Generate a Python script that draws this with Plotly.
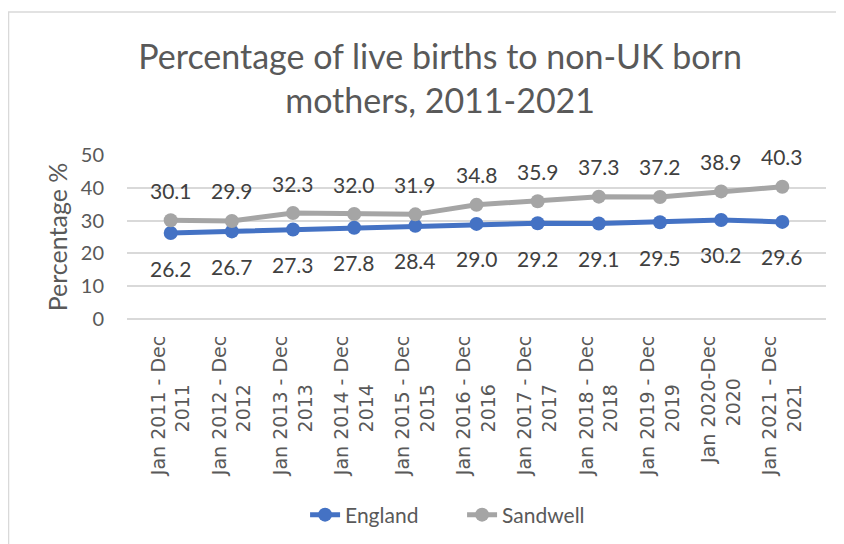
import plotly.graph_objects as go

NB = "\u00a0"
categories = [
    "Jan 2011 - Dec<br>2011" + NB * 8, "Jan 2012 - Dec<br>2012" + NB * 8,
    "Jan 2013 - Dec<br>2013" + NB * 8, "Jan 2014 - Dec<br>2014" + NB * 8,
    "Jan 2015 - Dec<br>2015" + NB * 8, "Jan 2016 - Dec<br>2016" + NB * 8,
    "Jan 2017 - Dec<br>2017" + NB * 8, "Jan 2018 - Dec<br>2018" + NB * 8,
    "Jan 2019 - Dec<br>2019" + NB * 8, "Jan 2020-Dec<br>2020" + NB * 7,
    "Jan 2021 - Dec<br>2021" + NB * 8,
]
england = [26.2, 26.7, 27.3, 27.8, 28.4, 29.0, 29.2, 29.1, 29.5, 30.2, 29.6]
sandwell = [30.1, 29.9, 32.3, 32.0, 31.9, 34.8, 35.9, 37.3, 37.2, 38.9, 40.3]
y_ticks = [0, 10, 20, 30, 40, 50]

BLUE = "#4472C4"
GREY = "#A5A5A5"
TEXT = "#595959"
FONT = "Lato"

fig = go.Figure()
fig.add_trace(go.Scatter(x=categories, y=england, name="England", mode="lines+markers",
                         line=dict(color=BLUE, width=5), marker=dict(size=14, color=BLUE)))
fig.add_trace(go.Scatter(x=categories, y=sandwell, name="Sandwell", mode="lines+markers",
                         line=dict(color=GREY, width=5), marker=dict(size=14, color=GREY)))

annotations = []
for c, v in zip(categories, england):
    annotations.append(dict(x=c, y=v, text=f"{v:.1f}", showarrow=False, yshift=-35,
                            font=dict(family=FONT, size=21, color="#404040")))
for c, v in zip(categories, sandwell):
    annotations.append(dict(x=c, y=v, text=f"{v:.1f}", showarrow=False, yshift=30,
                            font=dict(family=FONT, size=21, color="#404040")))

fig.update_layout(
    width=844, height=544,
    margin=dict(l=119, r=26, t=147, b=233),
    paper_bgcolor="white", plot_bgcolor="white",
    title=dict(text="Percentage of live births to non-UK born<br>mothers, 2011-2021",
               x=0.512, xref="container", xanchor="center", y=0.888, yref="container", yanchor="top",
               font=dict(family=FONT, size=34, color=TEXT)),
    font=dict(family=FONT, color=TEXT),
    showlegend=True,
    legend=dict(orientation="h", x=0.538, xref="container", xanchor="center",
                y=0.068, yref="container", yanchor="middle", entrywidth=112,
                font=dict(family=FONT, size=21, color=TEXT)),
    annotations=annotations,
    shapes=[dict(type="rect", xref="paper", yref="paper",
                 x0=-0.1695, x1=2.0, y0=-2.0, y1=1.872,
                 line=dict(color="#D9D9D9", width=1.5), fillcolor="rgba(0,0,0,0)", layer="below")],
)
fig.update_xaxes(tickangle=-90, showgrid=False, showline=False, ticks="", automargin=False,
                 ticklabelstandoff=12,
                 tickfont=dict(family="DejaVu Sans", size=19, color=TEXT))
fig.update_yaxes(range=[0, 50], tickvals=y_ticks, showgrid=True, gridcolor="#D9D9D9", gridwidth=1.5,
                 zeroline=True, zerolinecolor="#D9D9D9", zerolinewidth=1.5,
                 ticklabelstandoff=22, automargin=False,
                 tickfont=dict(family=FONT, size=20, color=TEXT),
                 title=dict(text="Percentage %", font=dict(family=FONT, size=25, color=TEXT), standoff=6))

fig.write_html("out.html")
